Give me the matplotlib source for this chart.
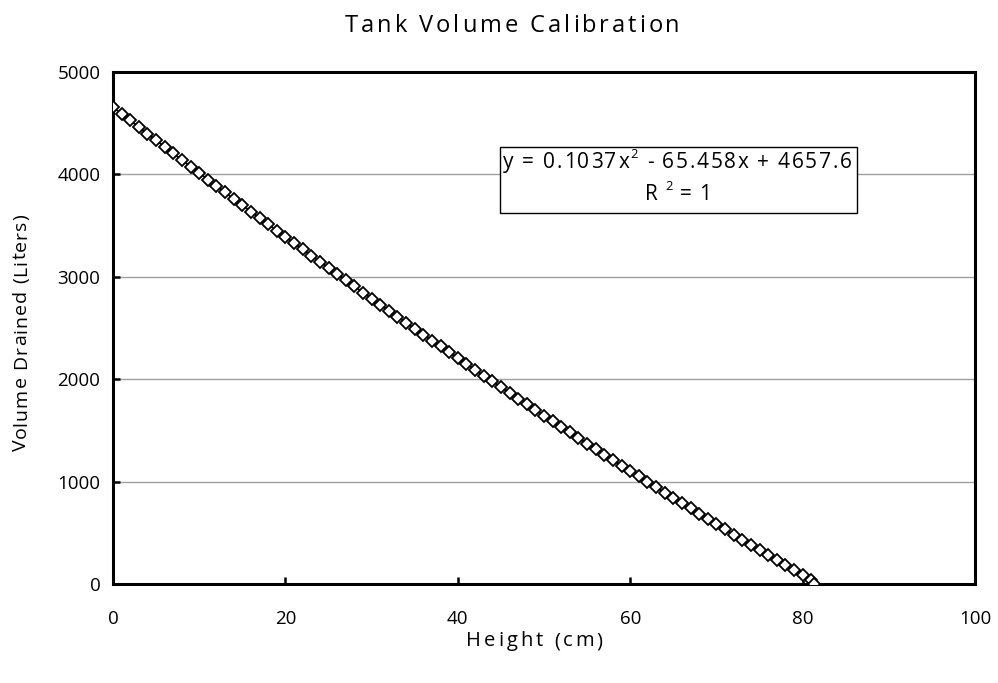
import numpy as np
import matplotlib
matplotlib.use("Agg")
import matplotlib.pyplot as plt
from matplotlib.font_manager import FontProperties, findfont, get_font
from matplotlib.patches import Rectangle
from matplotlib import ft2font

FAMILY = ['Open Sans', 'DejaVu Sans']
plt.rcParams['font.family'] = FAMILY

# Measured tank height (cm) and drained volume (L)
height_cm = [0, 1, 2, 3, 4, 5, 6, 7, 8, 9, 10, 11, 12, 13, 14, 15, 16, 17, 18, 19,
             20, 21, 22, 23, 24, 25, 26, 27, 28, 29, 30, 31, 32, 33, 34, 35, 36, 37, 38, 39,
             40, 41, 42, 43, 44, 45, 46, 47, 48, 49, 50, 51, 52, 53, 54, 55, 56, 57, 58, 59,
             60, 61, 62, 63, 64, 65, 66, 67, 68, 69, 70, 71, 72, 73, 74, 75, 76, 77, 78, 79,
             80, 81, 81.3]
volume_l = [4657.6, 4592.2, 4527.1, 4462.2, 4397.4, 4332.9, 4268.6, 4204.5, 4140.6, 4076.9,
            4013.4, 3950.1, 3887.0, 3824.2, 3761.5, 3699.1, 3636.8, 3574.8, 3513.0, 3451.3,
            3389.9, 3328.7, 3267.7, 3206.9, 3146.3, 3086.0, 3025.8, 2965.8, 2906.1, 2846.5,
            2787.2, 2728.1, 2669.1, 2610.4, 2551.9, 2493.6, 2435.5, 2377.6, 2319.9, 2262.5,
            2205.2, 2148.1, 2091.3, 2034.6, 1978.2, 1922.0, 1866.0, 1810.1, 1754.5, 1699.1,
            1644.0, 1589.0, 1534.2, 1479.6, 1425.3, 1371.1, 1317.2, 1263.4, 1209.9, 1156.6,
            1103.4, 1050.5, 997.8, 945.3, 893.0, 841.0, 789.1, 737.4, 685.9, 634.7,
            583.7, 532.8, 482.2, 431.8, 381.6, 331.6, 281.8, 232.2, 182.8, 133.6,
            84.6, 35.9, 0.0]

x_ticks = [0, 20, 40, 60, 80, 100]
y_ticks = [0, 1000, 2000, 3000, 4000, 5000]

title = 'Tank Volume Calibration'
x_label = 'Height (cm)'
y_label = 'Volume Drained (Liters)'
eq_line1 = [('y = 0.1037x', False), ('2', True), (' - 65.458x + 4657.6', False)]
eq_line2 = [('R ', False), ('2', True), (' = 1', False)]

W, H, DPI = 998, 683, 100
fig = plt.figure(figsize=(W / DPI, H / DPI), dpi=DPI)
ax = fig.add_axes([113 / W, 99 / H, 862 / W, 512 / H])

# --- letter-spaced text helper -------------------------------------------
_font_path = findfont(FontProperties(family=FAMILY))
try:
    _NOHINT = ft2font.LoadFlags.NO_HINTING
except AttributeError:
    _NOHINT = ft2font.LOAD_NO_HINTING


def _advance(ch, size):
    f = get_font(_font_path)
    f.set_size(size, DPI)
    g = f.load_char(ord(ch), flags=_NOHINT)
    return g.linearHoriAdvance / 65536


def spaced_text(pieces, x, y, size, width, vertical=False):
    """Draw text centred on x (or y when vertical) with letter spacing
    chosen so the run spans `width` pixels. (x, y) is in pixels from the
    lower-left corner; the other coordinate is the baseline."""
    glyphs = []
    for txt, sup in pieces:
        s = size * 0.62 if sup else size
        rise = size * 0.5 * DPI / 72 if sup else 0.0
        for ch in txt:
            glyphs.append((ch, s, rise))
    adv = [_advance(ch, s) for ch, s, _ in glyphs]
    natural = sum(adv[:-1]) + adv[-1] * 0.8
    track = (width - natural) / max(len(glyphs) - 1, 1)
    pos = (y if vertical else x) - width / 2
    for (ch, s, rise), a in zip(glyphs, adv):
        if vertical:
            fig.text((x - rise) / W, pos / H, ch, fontsize=s, rotation=90,
                     rotation_mode='anchor', ha='left', va='baseline')
        else:
            fig.text(pos / W, (y + rise) / H, ch, fontsize=s,
                     ha='left', va='baseline')
        pos += a + track


# --- data and trend line -------------------------------------------------
coef = np.polyfit(height_cm, volume_l, 2)
xs = np.linspace(min(height_cm), max(height_cm), 200)
ax.plot(xs, np.polyval(coef, xs), color='black', lw=1.3, zorder=3)

ax.plot(height_cm, volume_l, linestyle='none', marker='D', markersize=6.3,
        markerfacecolor='white', markeredgecolor='black', markeredgewidth=1.3, zorder=4)

ax.set_xlim(0, 100)
ax.set_ylim(0, 5000)
ax.set_xticks(x_ticks)
ax.set_yticks(y_ticks)
ax.tick_params(direction='in', length=5, width=1.8, labelsize=13.5)
ax.tick_params(axis='x', pad=19)
ax.tick_params(axis='y', pad=9)

ax.yaxis.grid(True, color='#a0a0a0', lw=1)
ax.set_axisbelow(True)
for s in ax.spines.values():
    s.set_linewidth(2.2)
    s.set_color('black')

# --- titles and labels ---------------------------------------------------
spaced_text([(title, False)], 511, H - 32, 17, 332)
spaced_text([(x_label, False)], 534, H - 646, 14.5, 135)
spaced_text([(y_label, False)], 26, H - 333, 14, 236, vertical=True)

# --- regression equation box ---------------------------------------------
ax.add_patch(Rectangle((0.449, 0.7246), 0.414, 0.129, transform=ax.transAxes,
                       facecolor='white', edgecolor='black', lw=1.0, zorder=5))
spaced_text(eq_line1, 676, H - 168, 15, 346)
spaced_text(eq_line2, 677, H - 200, 15, 64)

fig.savefig('out.png', dpi=DPI)
